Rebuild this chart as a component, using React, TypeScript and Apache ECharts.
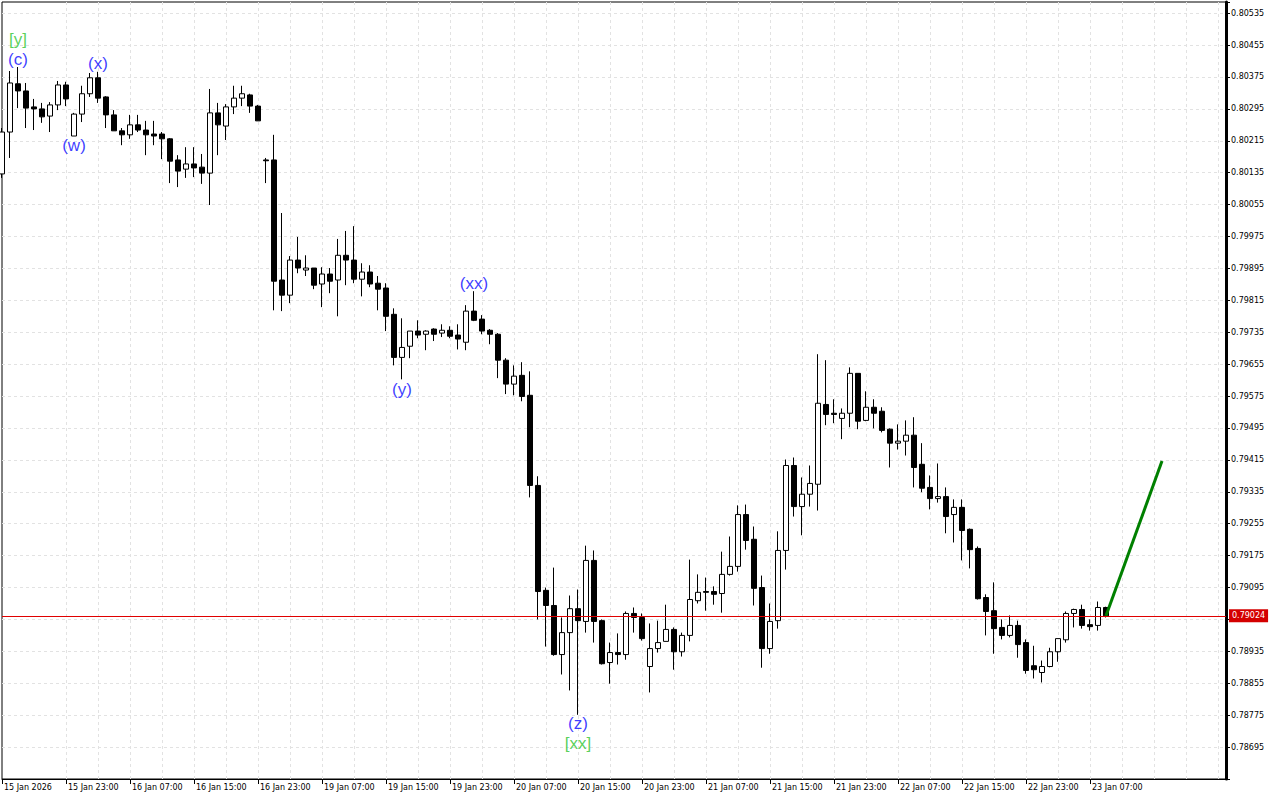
import React, { useEffect, useRef } from 'react';
import * as echarts from 'echarts';

// x-axis tick labels, one every 8 hourly candles starting at candle 0
const tickLabels = [
  '15 Jan 2026', '15 Jan 23:00', '16 Jan 07:00', '16 Jan 15:00', '16 Jan 23:00',
  '19 Jan 07:00', '19 Jan 15:00', '19 Jan 23:00', '20 Jan 07:00', '20 Jan 15:00',
  '20 Jan 23:00', '21 Jan 07:00', '21 Jan 15:00', '21 Jan 23:00', '22 Jan 07:00',
  '22 Jan 15:00', '22 Jan 23:00', '23 Jan 07:00',
];

// hourly OHLC (values in 1e-5 units)
const opens = [
  80132, 80237, 80358, 80340, 80300, 80295, 80277, 80305, 80355, 80227,
  80282, 80333, 80373, 80325, 80280, 80240, 80230, 80255, 80242, 80232,
  80232, 80220, 80167, 80144, 80157, 80149, 80134, 80285, 80252, 80300,
  80322, 80330, 80302, 80167, 80167, 79866, 79828, 79916, 79891, 79896,
  79856, 79881, 79866, 79928, 79916, 79868, 79886, 79858, 79846, 79780,
  79672, 79700, 79738, 79730, 79743, 79733, 79740, 79728, 79710, 79788,
  79768, 79740, 79730, 79665, 79605, 79627, 79577, 79351, 79088, 79050,
  78927, 78982, 79042, 79010, 79163, 79012, 78907, 78932, 78927, 79030,
  79020, 78897, 78942, 78960, 78990, 78934, 78975, 79062, 79085, 79085,
  79080, 79128, 79148, 79278, 79216, 79095, 78942, 79012, 79188, 79401,
  79298, 79329, 79354, 79554, 79532, 79519, 79532, 79632, 79514, 79547,
  79537, 79492, 79457, 79462, 79477, 79404, 79346, 79318, 79323, 79278,
  79296, 79241, 79193, 79070, 79037, 78995, 78975, 79000, 78957, 78899,
  78882, 78897, 78934, 78964, 79030, 79040, 79002, 79000, 79045,
];
const highs = [
  80247, 80390, 80400, 80360, 80320, 80310, 80312, 80365, 80363, 80285,
  80353, 80385, 80388, 80327, 80292, 80247, 80280, 80280, 80265, 80265,
  80237, 80222, 80179, 80199, 80199, 80182, 80345, 80310, 80307, 80353,
  80353, 80333, 80305, 80172, 80230, 80034, 79926, 79974, 79928, 79896,
  79898, 79896, 79969, 79989, 80001, 79908, 79903, 79876, 79858, 79795,
  79770, 79738, 79765, 79740, 79745, 79755, 79750, 79755, 79803, 79838,
  79778, 79743, 79733, 79670, 79652, 79660, 79637, 79374, 79095, 79145,
  79020, 79075, 79090, 79200, 79188, 79015, 78957, 78980, 79035, 79045,
  79030, 79005, 79012, 79052, 78995, 78982, 79165, 79128, 79120, 79098,
  79185, 79223, 79301, 79303, 79248, 79125, 79055, 79236, 79416, 79421,
  79371, 79401, 79680, 79665, 79567, 79544, 79647, 79632, 79587, 79567,
  79547, 79494, 79504, 79514, 79522, 79457, 79376, 79406, 79346, 79316,
  79316, 79243, 79198, 79078, 79108, 79015, 79025, 79012, 78965, 78949,
  78912, 78944, 78967, 79035, 79042, 79052, 79015, 79060, 79047,
];
const lows = [
  80122, 80172, 80297, 80247, 80242, 80260, 80237, 80292, 80302, 80227,
  80262, 80325, 80310, 80247, 80240, 80204, 80220, 80237, 80179, 80204,
  80169, 80109, 80099, 80122, 80124, 80107, 80054, 80179, 80217, 80282,
  80302, 80285, 80265, 80109, 79790, 79788, 79808, 79883, 79876, 79843,
  79798, 79833, 79775, 79853, 79858, 79825, 79848, 79790, 79738, 79652,
  79617, 79670, 79720, 79690, 79713, 79723, 79720, 79692, 79690, 79763,
  79730, 79705, 79620, 79580, 79577, 79562, 79321, 79015, 78947, 78924,
  78877, 78837, 78776, 78982, 78957, 78902, 78854, 78902, 78914, 78982,
  78962, 78832, 78932, 78960, 78889, 78922, 78960, 79055, 79037, 79052,
  79032, 79125, 79135, 79190, 79050, 78894, 78929, 78992, 79140, 79273,
  79226, 79298, 79288, 79502, 79507, 79467, 79497, 79492, 79512, 79494,
  79484, 79396, 79441, 79426, 79346, 79334, 79291, 79308, 79231, 79208,
  79163, 79143, 79065, 78975, 78929, 78965, 78970, 78919, 78879, 78867,
  78857, 78895, 78909, 78957, 78995, 78992, 78987, 78987, 79020,
];
const closes = [
  80237, 80360, 80340, 80297, 80295, 80275, 80305, 80355, 80320, 80282,
  80333, 80373, 80322, 80280, 80240, 80230, 80255, 80242, 80230, 80227,
  80220, 80164, 80139, 80157, 80147, 80134, 80285, 80255, 80300, 80322,
  80333, 80302, 80265, 80165, 79863, 79828, 79916, 79896, 79896, 79853,
  79881, 79863, 79928, 79916, 79868, 79886, 79856, 79843, 79775, 79672,
  79697, 79738, 79728, 79738, 79730, 79740, 79725, 79718, 79788, 79765,
  79738, 79730, 79665, 79605, 79625, 79574, 79351, 79085, 79050, 78927,
  78982, 79042, 79012, 79163, 79010, 78904, 78932, 78927, 79030, 79020,
  78967, 78942, 78957, 78990, 78934, 78975, 79065, 79083, 79083, 79078,
  79128, 79148, 79278, 79213, 79093, 78942, 79010, 79188, 79401, 79298,
  79329, 79356, 79557, 79529, 79529, 79532, 79632, 79512, 79547, 79532,
  79489, 79457, 79462, 79477, 79396, 79344, 79318, 79323, 79273, 79296,
  79238, 79190, 79067, 79035, 78992, 78975, 79000, 78952, 78887, 78889,
  78897, 78934, 78967, 79030, 79040, 79000, 78997, 79045, 79024,
];

const bidPrice = 0.79024;

// Elliott wave labels
const waveTexts = ['[y]', '(c)', '(x)', '(w)', '(xx)', '(y)', '(z)', '[xx]'];
const waveIdx = [2, 2, 12, 9, 59, 50, 72, 72];
const wavePrices = [0.80468, 0.8042, 0.80408, 0.80204, 0.79858, 0.79592, 0.78754, 0.78703];
const waveKinds = ['major', 'minor', 'minor', 'minor', 'minor', 'minor', 'minor', 'major'];

// forecast line
const forecastIdx = [138, 145];
const forecastPrices = [0.79024, 0.79412];

const TOTAL_SLOTS = 154;
const AXIS_FONT = 'DejaVu Sans';

export default function App() {
  const ref = useRef<HTMLDivElement>(null);
  useEffect(() => {
    document.body.style.margin = '0';
    const chart = echarts.init(ref.current as HTMLDivElement, null, { renderer: 'svg' });
    const cats = Array.from({ length: TOTAL_SLOTS }, (_, i) => String(i));
    const candleData = opens.map((o, i) => [o / 1e5, closes[i] / 1e5, lows[i] / 1e5, highs[i] / 1e5]);
    const isTick = (i: number) => i % 8 === 0 && i / 8 < tickLabels.length;
    const grid = { color: '#e2e2e2', type: [3, 3] as number[], width: 1 };

    chart.setOption({
      animation: false,
      backgroundColor: '#ffffff',
      grid: {
        left: 2, right: 54, top: 2, bottom: 21,
        show: true, borderColor: '#000', borderWidth: 1, backgroundColor: 'transparent',
      },
      xAxis: {
        type: 'category',
        data: cats,
        boundaryGap: false,
        axisLine: { show: true, onZero: false, lineStyle: { color: '#000', width: 1 } },
        axisTick: { show: true, interval: (i: number) => isTick(i), length: 5, lineStyle: { color: '#000' } },
        axisLabel: {
          interval: (i: number) => isTick(i),
          formatter: (_v: string, i: number) => (i % 8 === 0 ? tickLabels[i / 8] ?? '' : ''),
          align: 'left',
          margin: 4,
          padding: [0, 0, 0, 2],
          fontFamily: AXIS_FONT,
          fontSize: 8,
          color: '#000',
        },
        splitLine: {
          show: true,
          interval: (i: number) => i % 4 === 0 && i > 0,
          showMinLine: false,
          lineStyle: grid,
        },
      },
      yAxis: {
        type: 'value',
        position: 'right',
        min: 0.78615,
        max: 0.80563,
        interval: 0.0008,
        axisLine: { show: true, lineStyle: { color: '#000', width: 3 } },
        axisTick: { show: true, length: 4, lineStyle: { color: '#000' } },
        axisLabel: {
          showMinLabel: true,
          showMaxLabel: true,
          formatter: (v: number) => (v < 0.7866 || v > 0.8055 ? '' : v.toFixed(5)),
          margin: 5,
          fontFamily: AXIS_FONT,
          fontSize: 8,
          color: '#000',
        },
        splitLine: { show: true, showMinLine: false, showMaxLine: false, lineStyle: grid },
      },
      series: [
        {
          type: 'candlestick',
          data: candleData,
          barWidth: 5,
          itemStyle: {
            color: '#ffffff',
            color0: '#000000',
            borderColor: '#000000',
            borderColor0: '#000000',
            borderColorDoji: '#000000',
            borderWidth: 1,
          },
          markLine: {
            silent: true,
            symbol: 'none',
            precision: 5,
            data: [{ yAxis: bidPrice }],
            lineStyle: { color: '#e00000', width: 1, type: 'solid' },
            emphasis: { disabled: true },
            label: {
              show: true,
              position: 'end',
              distance: 3,
              formatter: bidPrice.toFixed(5),
              backgroundColor: '#d40000',
              color: '#fff',
              padding: [3, 3, 2, 3],
              fontFamily: AXIS_FONT,
              fontSize: 8,
            },
          },
        },
        {
          type: 'line',
          data: forecastIdx.map((x, i) => [x, forecastPrices[i]]),
          symbol: 'none',
          lineStyle: { color: '#008000', width: 3 },
          z: 5,
        },
        {
          type: 'scatter',
          data: waveIdx.map((x, i) => ({
            value: [x, wavePrices[i]],
            label: { color: waveKinds[i] === 'major' ? '#2fc42f' : '#0a0aff' },
          })),
          symbolSize: 0,
          z: 6,
          label: {
            show: true,
            position: 'inside',
            formatter: (p: any) => waveTexts[p.dataIndex],
            fontFamily: 'Liberation Sans',
            fontSize: 17,
          },
          itemStyle: { color: 'transparent' },
        },
      ],
    });
    return () => chart.dispose();
  }, []);
  return <div ref={ref} style={{ position: 'fixed', left: 0, top: 0, width: 1280, height: 800 }} />;
}
